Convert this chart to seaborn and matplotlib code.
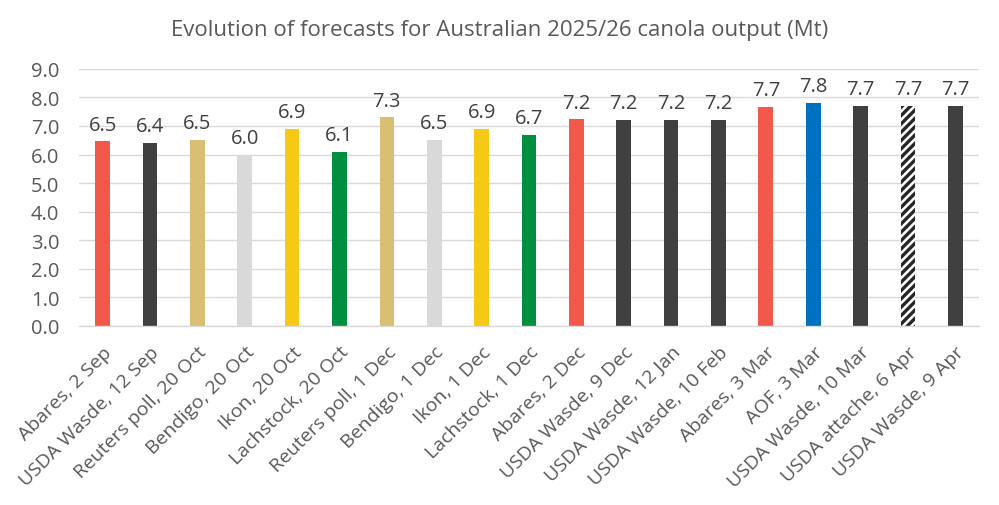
import matplotlib
matplotlib.use("Agg")
import matplotlib.pyplot as plt
import seaborn as sns
import pandas as pd

categories = ["Abares, 2 Sep", "USDA Wasde, 12 Sep", "Reuters poll, 20 Oct", "Bendigo, 20 Oct",
              "Ikon, 20 Oct", "Lachstock, 20 Oct", "Reuters poll, 1 Dec", "Bendigo, 1 Dec",
              "Ikon, 1 Dec", "Lachstock, 1 Dec", "Abares, 2 Dec", "USDA Wasde, 9 Dec",
              "USDA Wasde, 12 Jan", "USDA Wasde, 10 Feb", "Abares, 3 Mar", "AOF, 3 Mar",
              "USDA Wasde, 10 Mar", "USDA attache, 6 Apr", "USDA Wasde, 9 Apr"]
values = [6.46, 6.4, 6.5, 6.0, 6.9, 6.1, 7.3, 6.5, 6.9, 6.7, 7.23, 7.2, 7.2, 7.2, 7.67, 7.8, 7.7, 7.7, 7.7]
colors = ["#F2594B", "#404040", "#D9BF73", "#D9D9D9", "#F5C916", "#008E40", "#D9BF73", "#D9D9D9",
          "#F5C916", "#008E40", "#F2594B", "#404040", "#404040", "#404040", "#F2594B", "#0070C0",
          "#404040", "#FFFFFF", "#404040"]
hatched = "USDA attache, 6 Apr"
yticks = [0, 1, 2, 3, 4, 5, 6, 7, 8, 9]

df = pd.DataFrame({"cat": categories, "val": values})

sns.set_theme(style="white")
plt.rcParams['font.family'] = ['Open Sans', 'DejaVu Sans']
plt.rcParams['hatch.linewidth'] = 2.4
plt.rcParams['hatch.color'] = '#262626'

fig = plt.figure(figsize=(9.99, 5.06), dpi=100)
ax = fig.add_axes([0.079, 0.354, 0.901, 0.508])

sns.barplot(data=df, x="cat", y="val", hue="cat", palette=colors, legend=False,
            width=0.31, ax=ax, saturation=1, edgecolor="none", linewidth=0)

for p, c in zip(ax.patches, categories):
    if c == hatched:
        p.set_hatch("////")
        p.set_facecolor("white")
        p.set_edgecolor("#262626")
        p.set_linewidth(0)

for i, v in enumerate(values):
    ax.text(i, v + 0.24, f"{v:.1f}", ha="center", va="bottom", fontsize=14.5, color="#404040")

ax.set_ylim(0, 9)
ax.set_yticks(yticks)
ax.set_yticklabels([f"{t:.1f}" for t in yticks], fontsize=14.5, color="#595959")
ax.set_xlim(-0.5, len(categories) - 0.5)
ax.set_xticks(range(len(categories)))
ax.set_xticklabels(categories, rotation=45, ha="right", rotation_mode="anchor",
                   fontsize=14, color="#595959")
ax.tick_params(axis="y", length=0, pad=14)
ax.tick_params(axis="x", length=0, pad=12)
ax.set_xlabel("")
ax.set_ylabel("")
ax.yaxis.grid(True, color="#D9D9D9", linewidth=1)
ax.set_axisbelow(True)
for s in ["top", "right", "left"]:
    ax.spines[s].set_visible(False)
ax.spines["bottom"].set_color("#D9D9D9")
ax.spines["bottom"].set_linewidth(1)

fig.text(0.5, 0.94, "Evolution of forecasts for Australian 2025/26 canola output (Mt)",
         ha="center", va="center", fontsize=16, color="#595959")

fig.savefig("out.png", dpi=100)
